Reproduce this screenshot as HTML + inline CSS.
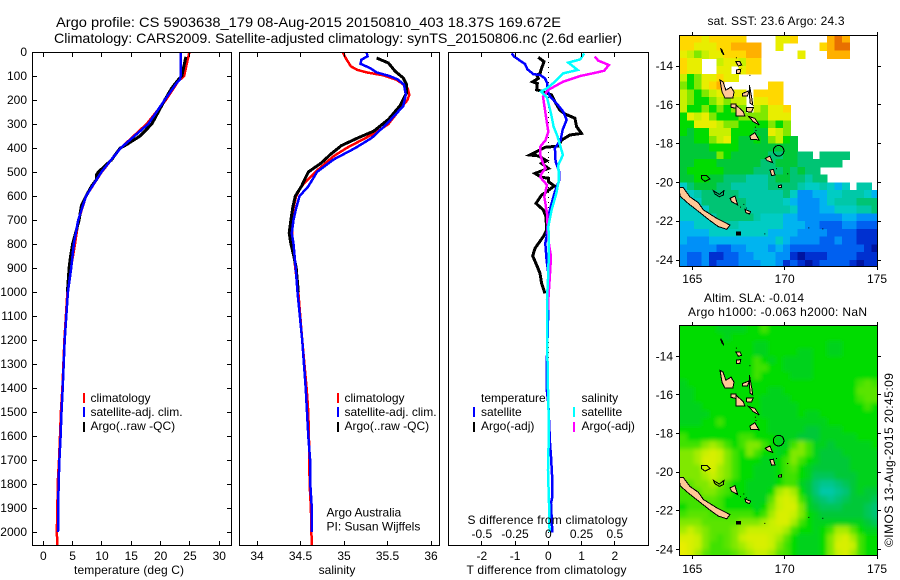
<!DOCTYPE html>
<html lang="en">
<head>
<meta charset="utf-8">
<title>Argo profile</title>
<style>
html,body{margin:0;padding:0;background:#fff}
svg{display:block}
text{font-family:"Liberation Sans",sans-serif;font-size:12px;fill:#000}
.frame{fill:none;stroke:#000;stroke-width:1;shape-rendering:crispEdges}
.line{fill:none;stroke-width:2.5;stroke-linejoin:miter;shape-rendering:crispEdges}
.title{font-size:14px}
</style>
</head>
<body>
<svg id="fig" xmlns="http://www.w3.org/2000/svg" width="900" height="580" viewBox="0 0 900 580">
<defs>
<clipPath id="clip-t"><rect x="32" y="52" width="200" height="494"/></clipPath>
<clipPath id="clip-s"><rect x="239" y="52" width="201" height="494"/></clipPath>
<clipPath id="clip-d"><rect x="448" y="52" width="201" height="494"/></clipPath>
<clipPath id="clip-m1"><rect x="679" y="35" width="199" height="232"/></clipPath>
<clipPath id="clip-m2"><rect x="679" y="325" width="199" height="231"/></clipPath>
<filter id="sla-smooth" filterUnits="userSpaceOnUse" x="650" y="295" width="250" height="285"><feGaussianBlur stdDeviation="2.2"/></filter>
</defs>

<text class="title" x="56" y="27" textLength="505" lengthAdjust="spacingAndGlyphs">Argo profile: CS 5903638_179 08-Aug-2015 20150810_403 18.37S 169.672E</text>
<text class="title" x="54" y="43" textLength="568" lengthAdjust="spacingAndGlyphs">Climatology: CARS2009. Satellite-adjusted climatology: synTS_20150806.nc (2.6d earlier)</text>

<g id="layer-heat1" clip-path="url(#clip-m1)"></g>
<g id="layer-land1" clip-path="url(#clip-m1)"></g>
<g clip-path="url(#clip-m2)"><g id="layer-heat2" filter="url(#sla-smooth)"></g></g>
<g id="layer-land2" clip-path="url(#clip-m2)"></g>

<g id="lines-t" clip-path="url(#clip-t)"></g>
<g id="lines-s" clip-path="url(#clip-s)"></g>
<g id="lines-d" clip-path="url(#clip-d)"></g>

<rect class="frame" x="32.5" y="52.5" width="199" height="493"/>
<rect class="frame" x="239.5" y="52.5" width="200" height="493"/>
<rect class="frame" x="448.5" y="52.5" width="200" height="493"/>
<rect class="frame" x="679.5" y="35.5" width="198" height="231"/>
<rect class="frame" x="679.5" y="325.5" width="198" height="230"/>

<g id="axes"></g>

<text x="129" y="574" text-anchor="middle" textLength="110" lengthAdjust="spacing">temperature (deg C)</text>
<text x="337" y="574" text-anchor="middle">salinity</text>
<text x="466.5" y="574" textLength="160" lengthAdjust="spacing">T difference from climatology</text>
<text x="467.5" y="524" textLength="160" lengthAdjust="spacing">S difference from climatology</text>

<g>
<rect x="83" y="393" width="2" height="10" fill="#f00"/>
<text x="90.5" y="402">climatology</text>
<rect x="83" y="407" width="2" height="10" fill="#00f"/>
<text x="90.5" y="416">satellite-adj. clim.</text>
<rect x="83" y="422" width="2" height="10" fill="#000"/>
<text x="90.5" y="430">Argo(..raw -QC)</text>
</g>
<g>
<rect x="337" y="393" width="2" height="10" fill="#f00"/>
<text x="344.5" y="402">climatology</text>
<rect x="337" y="407" width="2" height="10" fill="#00f"/>
<text x="344.5" y="416">satellite-adj. clim.</text>
<rect x="337" y="422" width="2" height="10" fill="#000"/>
<text x="344.5" y="430">Argo(..raw -QC)</text>
<text x="326.5" y="516.5">Argo Australia</text>
<text x="326.5" y="530.5">PI: Susan Wijffels</text>
</g>
<g>
<text x="481" y="402">temperature</text>
<text x="581.5" y="402">salinity</text>
<rect x="473" y="407" width="2" height="10" fill="#00f"/>
<text x="481" y="416">satellite</text>
<rect x="473" y="422" width="2" height="10" fill="#000"/>
<text x="481" y="430">Argo(-adj)</text>
<rect x="573" y="407" width="2" height="10" fill="#0ff"/>
<text x="581.5" y="416">satellite</text>
<rect x="573" y="422" width="2" height="10" fill="#f0f"/>
<text x="581.5" y="430">Argo(-adj)</text>
</g>

<text x="707.5" y="25" textLength="137" lengthAdjust="spacing">sat. SST: 23.6 Argo: 24.3</text>
<text x="704" y="302" textLength="100" lengthAdjust="spacing">Altim. SLA: -0.014</text>
<text x="688" y="316" textLength="179" lengthAdjust="spacing">Argo h1000: -0.063 h2000: NaN</text>
<text transform="translate(893,547) rotate(-90)" textLength="174" lengthAdjust="spacing">©IMOS 13-Aug-2015 20:45:09</text>
</svg>

<script>
// ---------- profile data ----------
const depthTicks = [0,100,200,300,400,500,600,700,800,900,1000,1100,1200,1300,1400,1500,1600,1700,1800,1900,2000];
const tempTicks = [0,5,10,15,20,25,30];
const salTicks = [34,34.5,35,35.5,36];
const salTickLabels = ['34','34.5','35','35.5','36'];
const tDiffTicks = [-2,-1,0,1,2];
const sDiffTicks = [-0.5,-0.25,0,0.25,0.5];
const sDiffTickLabels = ['-0.5','-0.25','0','0.25','0.5'];

const climTempDepth = [0,100,122,200,300,400,500,600,700,800,900,1000,1200,1400,1500,1600,1700,1800,1900,2000,2054];
const climTemp = [24.9,24,23,20.9,17.6,13.2,9.95,7.3,6,5.4,4.7,4.1,3.6,3.25,3,2.85,2.68,2.45,2.4,2.3,2.4];
const satTempDepth = [0,100,115,130,200,250,300,400,500,600,700,800,900,1000,1200,1400,1500,1600,1700,1800,1900,2000];
const satTemp = [23.47,23.4,23.3,22.7,20.7,19.3,17.9,13.2,9.9,7.3,5.95,5.2,4.75,4.2,3.65,3.3,3.1,2.95,2.75,2.6,2.55,2.5];
const argoTempDepth = [20,100,110,150,200,250,300,350,390,400,430,450,500,510,530,560,600,640,700,800,850,900,1000];
const argoTemp = [24.3,23.6,23.2,21.9,20.7,19.6,18.5,16.5,13.9,13.1,12.2,11.6,9.4,9.1,9.1,8.2,7.3,6.5,6.1,5,4.65,4.4,4.1];

const climSalDepth = [0,32,60,74,85,97,115,129,150,178,200,240,300,337,400,434,500,560,600,650,700,800,900,1000,1200,1400,1500,1650,1800,1900,2000,2054];
const climSal = [34.985,35.03,35.08,35.15,35.26,35.45,35.6,35.66,35.73,35.75,35.73,35.64,35.51,35.36,35.03,34.88,34.67,34.51,34.45,34.42,34.4,34.41,34.44,34.475,34.52,34.57,34.59,34.6,34.605,34.62,34.625,34.63];
const satSalDepth = [0,18,32,49,67,85,101,115,136,178,226,300,358,400,448,500,560,600,650,700,754,800,900,1000,1200,1400,1500,1600,1700,1800,1900,2000];
const satSal = [35.26,35.27,35.2,35.19,35.3,35.375,35.53,35.62,35.69,35.71,35.68,35.49,35.32,35.13,34.88,34.69,34.59,34.49,34.45,34.42,34.4,34.42,34.445,34.465,34.52,34.56,34.575,34.59,34.61,34.613,34.63,34.63];
const argoSalDepth = [25,46,81,108,136,171,226,281,330,358,390,428,462,500,560,600,650,700,754,800,844,900,1000];
const argoSal = [35.375,35.51,35.59,35.68,35.72,35.72,35.64,35.51,35.34,35.16,34.97,34.84,34.74,34.59,34.51,34.44,34.41,34.39,34.37,34.39,34.42,34.45,34.475];

const satDTDepth = [6,19,36,50,72,92,96,110,131,158,186,214,249,283,325,367,401,457,499,533,582,631,686,769,797,867,922,1075,1325,1401,1464,1630,1686,1783,1853,1880,2003];
const satDT = [-1.1,-1.03,-.85,-.7,-.63,-.45,-.25,-.1,-.03,-.03,.05,.25,.45,.55,.43,.37,.2,.22,.33,.33,.2,.1,0,-.05,-.09,-.05,0,0,-.05,-.05,0,.05,.08,.12,.12,.08,.12];
const argoDTDepth = [22,40,68,89,96,110,124,131,158,165,179,207,242,258,276,311,339,346,367,392,397,415,429,433,453,464,485,506,522,526,540,558,582,596,631,658,686,742,769,818,850,888,922,964,1006];
const argoDT = [-.3,-.13,-.2,-.25,-.35,-.3,-.47,-.33,-.35,-.15,.1,.2,.35,.5,.8,.85,1,.65,.4,.3,-.1,-.35,-.55,-.3,-.05,-.2,0,-.4,-.2,0,0,.18,-.05,-.2,-.37,-.15,-.07,-.05,-.15,-.4,-.47,-.35,-.25,-.2,-.1];
const satDSDepth = [6,31,44,75,89,124,151,165,189,256,311,353,429,471,533,589,658,728,783,922,1033,1075,1325,1464,1561,1742,1880,2000];
const satDS = [.27,.24,.15,.22,.11,.05,-.01,-.055,-.01,.02,.04,.07,.11,.075,.08,.06,.025,0,.005,0,-.01,-.01,-.005,0,.005,-.002,.005,.01];
const argoDSDepth = [19,36,54,78,86,100,124,158,186,242,297,332,367,394,429,464,485,506,522,554,603,672,783,853,950,1033,1075];
const argoDS = [.35,.375,.456,.42,.36,.24,.11,0,-.04,-.025,-.01,0,-.02,-.06,-.06,-.04,-.02,-.05,-.06,-.01,-.03,-.01,0,.02,.01,0,0];

// ---------- map data (colour-scale levels, 0=coldest/lowest, 15=warmest/highest; N=no data) ----------
const N = null;
const sstLevels = [
[13,13,13,12,13,13,13,13,13,N,N,N,N,12,12,13,N,N,N,N,14,15,14,N,N,N,N],
[13,13,12,12,12,13,13,14,14,14,14,N,N,12,N,N,N,N,N,13,14,15,15,N,N,N,N],
[12,11,10,11,12,12,13,13,13,14,14,N,N,N,N,N,12,N,N,N,14,14,14,N,N,N,N],
[13,12,12,N,N,11,12,12,11,13,13,N,N,N,N,N,N,N,N,N,N,N,N,N,N,N,N],
[13,12,12,N,N,12,12,N,12,13,13,N,N,N,N,N,N,N,N,N,N,N,N,N,N,N,N],
[11,9,10,12,12,13,12,12,N,N,N,N,N,N,N,N,N,N,N,N,N,N,N,N,N,N,N],
[10,9,10,12,13,14,N,N,N,N,N,N,13,13,N,N,N,N,N,N,N,N,N,N,N,N,N],
[11,10,9,10,11,12,12,12,12,N,13,13,13,13,N,N,N,N,N,N,N,N,N,N,N,N,N],
[11,10,9,9,10,11,10,11,11,N,12,12,13,13,N,N,N,N,N,N,N,N,N,N,N,N,N],
[11,9,9,10,9,10,9,10,10,N,11,10,12,12,13,N,N,N,N,N,N,N,N,N,N,N,N],
[9,12,11,12,10,9,9,9,10,10,10,10,12,12,12,N,N,N,N,N,N,N,N,N,N,N,N],
[9,9,12,12,12,11,10,10,9,9,9,9,10,9,10,N,N,N,N,N,N,N,N,N,N,N,N],
[9,8,9,9,11,11,11,9,9,9,8,8,12,11,10,N,N,N,N,N,N,N,N,N,N,N,N],
[8,8,9,9,10,11,12,9,8,8,9,8,10,11,9,8,N,N,N,N,N,N,N,N,N,N,N],
[8,8,8,8,9,9,9,9,8,8,8,8,8,8,8,8,N,N,N,N,N,N,N,N,N,N,N],
[8,8,8,8,8,10,9,8,8,8,8,8,7,7,8,8,7,7,N,7,7,7,7,N,N,N,N],
[8,8,9,9,9,8,8,8,8,8,8,7,7,8,8,8,7,7,7,7,7,7,N,N,N,N,N],
[8,9,9,9,9,9,8,8,8,8,7,7,7,7,8,7,8,7,7,N,N,N,N,N,N,N,N],
[8,8,9,9,8,8,7,7,7,6,6,6,7,8,8,7,7,6,7,7,N,N,N,N,N,N,N],
[5,7,8,8,8,7,7,6,6,6,6,6,7,7,7,7,6,5,5,6,5,4,5,N,6,6,N],
[5,5,6,7,7,7,7,7,6,6,6,6,6,6,7,5,3,3,4,4,5,5,6,6,6,5,4],
[5,5,5,7,7,7,7,7,7,6,6,6,6,6,5,4,3,3,3,4,5,6,6,6,7,7,7],
[5,5,5,5,7,7,7,7,7,6,6,6,6,6,6,5,3,3,3,4,4,5,5,5,6,6,7],
[5,5,5,5,6,7,7,7,7,7,6,5,5,5,4,4,3,3,3,3,3,3,4,4,3,3,3],
[4,4,5,5,5,5,6,6,5,5,5,5,5,5,4,4,4,3,3,2,2,2,3,3,2,2,2],
[4,4,4,4,5,5,5,5,5,5,5,5,4,4,4,4,3,3,3,3,2,2,2,2,1,1,1],
[4,3,3,3,4,4,4,4,4,4,4,4,4,5,4,3,3,3,3,2,2,3,2,2,1,1,1],
[3,3,3,3,3,2,2,3,3,4,4,4,3,4,3,2,2,2,2,2,2,2,2,2,2,1,0],
[3,2,2,3,1,1,2,2,3,3,4,4,4,3,3,1,0,1,1,1,2,2,2,2,1,1,1],
[3,2,2,3,1,2,2,2,3,3,3,4,4,3,1,2,1,0,1,2,2,2,2,1,0,1,1]
];
const slaLevels = [
[9,9,9,9,9,8.5,8.5,8.5,8.5,9,9,9.5,9,9,9,9,9,9,9,9,9,9,9,9,9,9,9],
[9,9,9,9,9,9,8.5,9,9,9,9,9,9,9,9,9,9,9,9,9,9,9,9,9,9,9,9],
[9,9,9,9,9,9,9,9,9,9,8.5,8.5,9,9,9,9,9,9,9,9,8.5,8.5,9,9,9,9,9],
[9,9,9,9,9,9,9,9,9,9,8.5,8.5,9,9,9,9,8.5,8.5,9,9,8.5,8.5,9,9,9,9,9],
[9,9,9,9,9,9,9,9,9,9,9.5,9,8.5,9,8.5,8.5,8.5,8.5,9,9,9,9,9,9,9,9,9],
[9,9,9,9,9,9,9,9,9,9,9.5,9.5,9,9,8.5,8.5,8.5,8.5,9,9,9,9,9,9,9,9,9],
[9,9,9,9,9,9,9,9,9,9,9.5,9,9,9,9,8.5,8.5,8.5,9,9,9,9,9,9,9,9,9],
[8.5,9,9,9,9,9,9,9,9,9,9,9,9,9,9,9,9,9,9,9,9,9,9,9,9.5,9.7,9.5],
[8.5,8.5,9,9,9,9,9,9,9,9,9,9,8.5,8.5,9,9,9,9,9,9,9,9,9,9,9.7,9.7,9.7],
[8.5,8.5,9,9,9,9,9,9,9,9,9,8.5,8.5,8.5,8.5,9,9,9,9,9,9,9,9,9,9.5,9.7,9.7],
[8.5,8.5,8.5,9,9,9,9,9,9,9,9,8.5,8.5,8.5,8.5,8.5,9,9,9,9,9,9,9,9,9,9.5,9],
[8.5,8.5,8.5,8.5,9,9,9,9,9,9,9,8.5,8.5,8.5,8.5,8.5,9,8.5,8.5,9,9,9,9,9,9,9,9],
[8.5,8.5,8.5,9,9,9.5,9,9,9,9,9,9,8.5,8.5,8.5,8.5,8.5,8.5,8.5,8.5,9,9,9,9,9,9,9],
[9,9,9,9,9,9,9,9,9,9,9,9,8.5,8.5,8.5,8.5,8.5,8,8,8.5,8.5,8.5,9,9,9,9,9],
[9.5,9,9,9,9,9,9,9,9.5,9.5,9,9,9,8.5,8.5,8.5,8,8,8,8.5,8.5,8.5,8.5,8.5,9,9,9],
[9.5,9.5,9.5,10,10.5,10,9.5,9,9.5,10,10,9.5,9,8.5,8.5,9.5,10,9.5,8.5,8.5,8,8.5,8.5,8.5,8.5,8.5,9],
[10,10,10.5,11,11.5,11,10,9.5,9,10,9.5,9,9,8.5,9,10,10,9.5,8.5,8,8,8,8.5,8.5,8.5,8.5,8.5],
[10,10,10.5,11.5,11.5,11,10,9.5,9,9,9,8.5,8.5,9,9.5,10,9.5,9,8.5,8,8,8,8,8.5,8.5,8.5,8.5],
[10,10,10,11,11.5,10.5,10,9.5,9,9,8.5,8.5,8.5,9,9.5,9.7,9,8.5,8,8,8,8,8,8.5,8.5,8.5,8.5],
[10,10,10,10.5,11,10.5,10,9.5,9,9,8.5,8.5,8.5,9,9.5,9.5,9,8.5,7.5,7.5,7.5,8,8,8,8.5,8.5,8.5],
[9.7,9.7,10,10,10.5,10,9.5,9,9,8.5,8.5,8.5,8.5,9,9.5,9.5,8.5,8,7,6.5,6.5,7,7.5,8,8.5,8.5,8.5],
[9.5,9.5,9.7,10,10,9.7,9.5,9,9,8.5,8.5,8.5,9,10.5,11,10.5,9,8,7,6,6,6.5,7,8,8.5,8,8],
[9.5,9.5,9.5,9.7,9.7,9.5,9,9,9,8.5,8.5,8.5,9.7,11,11.5,11,9.5,8.5,7.5,7,6.5,7,7.5,8,8,8,7.5],
[9,9.5,9.5,9.5,9.5,9.5,9,9,9,9,8.5,9,10,11,11.5,11.5,10,8.5,8,7.5,7.5,7.5,8,8,8,7.5,7],
[9.5,9.7,9.7,9.7,9.5,9.5,9.5,9.5,9.5,9.5,9,9.5,10.5,11.5,11.5,11,10,9,8.5,8,8,8,8,8,8,7.5,7],
[10,10,10,9.7,9.7,9.7,9.7,9.7,10,10,10,10.5,11,11.5,11.5,10.5,9.5,9,8.5,8.5,8.5,8.5,8.5,8.5,8.5,8,7.5],
[10.5,11,10.5,10,9.7,9.7,9.7,10,10.5,11,11,11,11,11,10.5,9.5,9,9,8.5,9,9.5,10.5,10.5,9.7,9,8.5,8.5],
[11.5,11.5,11,10,9.7,9.5,9.7,10,11,11.5,11.5,11.5,11,10.5,9.7,9,8.5,8.5,8.5,9,10,11,11.5,10.5,9.5,9,9],
[12,11.5,11,10,9.5,9.5,9.7,10,10.5,11,11.5,11.5,11,10,9.5,9,8.5,8.5,8.5,9,10,11.5,11.5,11,9.5,9,9],
[12,11.5,10.5,9.7,9.5,9.5,9.5,9.7,10,10.5,11,11,10.5,9.7,9.5,9,8.5,8.5,8.5,9,10,11,11.5,10.5,9.5,9,9]
];
const colourScale = ['#0014a0','#0030d0','#0060f0','#0090f8','#00b4f0','#00ccc4','#00c8a8','#00c474','#00c838','#00dc00','#80e800','#c8f000','#e8ee00','#ffd800','#ffb000','#e87000'];
const lonTicks = [165,170,175];
const latTicks = [-14,-16,-18,-20,-22,-24];
const gridLonStart = 164.3, gridLatStart = -12.4, gridStep = 0.4;
const floatLon = 169.672, floatLat = -18.37;

const islandNames = ['new-caledonia','espiritu-santo','malekula','malo','ambrym','pentecost','ambae','epi','efate','erromango','tanna','aneityum','banks-a','banks-b','torres','mare','maatsu','isle-of-pines'];
const islandLons = [
[164.3,164.51,164.87,165.32,165.6,166.32,167.04,166.86,166.41,165.96,165.23,164.78,164.33],
[166.5,166.66,166.82,167.1,167.26,167.2,166.77,166.61],
[167.37,167.76,167.85,167.37],
[167.1,167.36,167.36,167.1],
[167.94,168.3,168.2,167.94],
[168.09,168.22,168.27,168.13,168.09],
[167.73,168.09,167.98,167.73],
[168.05,168.39,168.63,168.3],
[168.12,168.39,168.61,168.16],
[168.95,169.2,169.35,169.06],
[169.2,169.39,169.48,169.3],
[169.66,169.84,169.84,169.66],
[167.36,167.58,167.67,167.49],
[167.4,167.62,167.58,167.4],
[166.53,166.62,166.71,166.6],
[167.04,167.31,167.45,167.13],
[167.85,168.16,168.09,167.9],
[167.4,167.6,167.6,167.4]
];
const islandLats = [
[-20.27,-20.27,-20.74,-21.04,-21.42,-21.85,-22.2,-22.42,-22.28,-21.97,-21.42,-21.08,-20.7],
[-14.72,-14.82,-15.24,-15.08,-15.34,-15.65,-15.65,-15.34],
[-16.01,-16.36,-16.58,-16.58],
[-15.96,-15.96,-16.18,-16.13],
[-16.15,-16.15,-16.38,-16.35],
[-14.98,-15.66,-16,-15.91,-15.41],
[-15.41,-15.27,-15.55,-15.55],
[-16.6,-16.7,-17.04,-16.87],
[-17.61,-17.44,-17.81,-17.78],
[-18.76,-18.64,-18.98,-18.88],
[-19.36,-19.33,-19.62,-19.65],
[-20.17,-20.13,-20.25,-20.25],
[-13.78,-13.78,-13.95,-14],
[-14.2,-14.17,-14.38,-14.38],
[-13.09,-13.2,-13.43,-13.3],
[-20.82,-20.7,-21.16,-20.99],
[-21.39,-21.51,-21.63,-21.56],
[-22.55,-22.55,-22.7,-22.7]
];
const ringNames = ['ouvea','lifou'];
const ringLons = [[165.5,165.78,165.96,165.69,165.51],[166.14,166.46,166.71,166.68,166.46,166.23]];
const ringLats = [[-19.65,-19.65,-19.82,-19.95,-19.82],[-20.43,-20.62,-20.43,-20.65,-20.74,-20.6]];
const speckLons = [167.36,168.09,168.39,168.42,169.53,170.14,171.28,172.04,168.9,167.58,167.76,167.9];
const speckLats = [-13.55,-14.46,-17.13,-17.3,-19.27,-19.53,-22.32,-22.37,-22.63,-21.25,-21.11,-21.3];

// ---------- axis functions ----------
const depthY = d => 52 + d * 0.24;
const xTemp = t => 43.3 + t * 5.867;
const xSal = s => 257 + (s - 34) * 87;
const xDT = v => 548.3 + v * 33.25;
const xDS = v => 548.3 + v * 133;
const lonX = lon => 692.3 + (lon - 165) * 18.47;
const latY1 = lat => 66 + (-14 - lat) * 19.4;
const latY2 = lat => 356.3 + (-14 - lat) * 19.3;

const NS = 'http://www.w3.org/2000/svg';
function make(tag, parent, attrs) {
  const el = document.createElementNS(NS, tag);
  for (const k in attrs) el.setAttribute(k, attrs[k]);
  parent.appendChild(el);
  return el;
}

// ---------- profile lines ----------
function drawLine(parentId, name, depths, values, xFn, colour, width) {
  const pts = depths.map((d, i) => xFn(values[i]).toFixed(1) + ',' + depthY(d).toFixed(1)).join(' ');
  const el = make('polyline', document.getElementById(parentId), {points: pts, stroke: colour, class: 'line', style: 'stroke-width:' + width});
  
  
}
drawLine('lines-t', 'temperature-climatology-line', climTempDepth, climTemp, xTemp, '#f00', 2.5);
drawLine('lines-t', 'temperature-argo-line', argoTempDepth, argoTemp, xTemp, '#000', 3);
drawLine('lines-t', 'temperature-satellite-line', satTempDepth, satTemp, xTemp, '#00f', 2.5);
drawLine('lines-s', 'salinity-climatology-line', climSalDepth, climSal, xSal, '#f00', 2.5);
drawLine('lines-s', 'salinity-argo-line', argoSalDepth, argoSal, xSal, '#000', 3);
drawLine('lines-s', 'salinity-satellite-line', satSalDepth, satSal, xSal, '#00f', 2.5);

const zeroLine = make('line', document.getElementById('lines-d'), {x1: xDT(0), x2: xDT(0), y1: depthY(0), y2: depthY(2054), stroke: '#000', 'stroke-width': 1, 'stroke-dasharray': '1 4', 'shape-rendering': 'crispEdges'});


drawLine('lines-d', 'diff-temperature-argo-line', argoDTDepth, argoDT, xDT, '#000', 3);
drawLine('lines-d', 'diff-temperature-satellite-line', satDTDepth, satDT, xDT, '#00f', 2.5);
drawLine('lines-d', 'diff-salinity-argo-line', argoDSDepth, argoDS, xDS, '#f0f', 2.5);
drawLine('lines-d', 'diff-salinity-satellite-line', satDSDepth, satDS, xDS, '#0ff', 2.5);

// ---------- heatmaps ----------
function levelColour(v) {
  const lo = Math.floor(v), hi = Math.min(lo + 1, colourScale.length - 1), f = v - lo;
  const a = parseInt(colourScale[lo].slice(1), 16), b = parseInt(colourScale[hi].slice(1), 16);
  const mix = s => Math.round(((a >> s) & 255) * (1 - f) + ((b >> s) & 255) * f);
  return 'rgb(' + mix(16) + ',' + mix(8) + ',' + mix(0) + ')';
}
function drawHeat(parentId, grid, latY, name, bleed) {
  const parent = document.getElementById(parentId);
  grid.forEach((row, r) => {
    row.forEach((v, c) => {
      if (v === null) return;
      let x0 = lonX(gridLonStart + c * gridStep), x1 = lonX(gridLonStart + (c + 1) * gridStep);
      let y0 = latY(gridLatStart - r * gridStep), y1 = latY(gridLatStart - (r + 1) * gridStep);
      if (c === 0) x0 -= bleed;
      if (c === row.length - 1) x1 += bleed;
      if (r === 0) y0 -= bleed;
      if (r === grid.length - 1) y1 += bleed;
      const cell = make('rect', parent, {x: x0.toFixed(1), y: y0.toFixed(1), width: (x1 - x0 + 0.6).toFixed(1), height: (y1 - y0 + 0.6).toFixed(1), fill: levelColour(v), 'shape-rendering': 'crispEdges'});
      
      
    });
  });
}
drawHeat('layer-heat1', sstLevels, latY1, 'sst-cell', 0);
drawHeat('layer-heat2', slaLevels, latY2, 'sla-cell', 12);

// ---------- land ----------
function drawLand(parentId, latY) {
  const parent = document.getElementById(parentId);
  islandNames.forEach((nm, i) => {
    const pts = islandLons[i].map((lon, j) => lonX(lon).toFixed(1) + ',' + latY(islandLats[i][j]).toFixed(1)).join(' ');
    const fill = nm === 'isle-of-pines' ? '#000' : '#ffc896';
    const poly = make('polygon', parent, {points: pts, fill: fill, stroke: '#000', 'stroke-width': 1, 'shape-rendering': 'crispEdges'});
    
    
  });
  ringNames.forEach((nm, i) => {
    const pts = ringLons[i].map((lon, j) => lonX(lon).toFixed(1) + ',' + latY(ringLats[i][j]).toFixed(1)).join(' ');
    const poly = make('polygon', parent, {points: pts, fill: 'none', stroke: '#000', 'stroke-width': 1, 'shape-rendering': 'crispEdges'});
    
    
  });
  speckLons.forEach((lon, i) => {
    const sp = make('rect', parent, {x: lonX(lon).toFixed(1), y: latY(speckLats[i]).toFixed(1), width: 1, height: 1, fill: '#000'});
    
    
  });
  const circle = make('circle', parent, {cx: lonX(floatLon), cy: latY(floatLat), r: 5.3, fill: 'none', stroke: '#000', 'stroke-width': 1, 'shape-rendering': 'crispEdges'});
  
  
}
drawLand('layer-land1', latY1);
drawLand('layer-land2', latY2);

// ---------- axes ----------
const axes = document.getElementById('axes');
function tick(x1, y1, x2, y2) {
  const t = make('line', axes, {x1: x1, y1: y1, x2: x2, y2: y2, stroke: '#000', 'stroke-width': 1, 'shape-rendering': 'crispEdges'});
  
  
}
function label(x, y, str, anchor) {
  const t = make('text', axes, {x: x, y: y, 'text-anchor': anchor});
  t.textContent = str;
  
  
}
const px = v => Math.floor(v) + 0.5;
depthTicks.forEach(d => {
  const y = px(depthY(d));
  tick(32.5, y, 37, y);
  tick(227, y, 231.5, y);
  label(27, depthY(d) + 4, String(d), 'end');
});
tempTicks.forEach(t => {
  const x = px(xTemp(t));
  tick(x, 52.5, x, 57);
  tick(x, 541, x, 545.5);
  label(xTemp(t), 560, String(t), 'middle');
});
salTicks.forEach((s, i) => {
  const x = px(xSal(s));
  tick(x, 52.5, x, 57);
  tick(x, 541, x, 545.5);
  label(xSal(s), 560, salTickLabels[i], 'middle');
});
tDiffTicks.forEach(t => {
  const x = px(xDT(t));
  tick(x, 52.5, x, 57);
  tick(x, 541, x, 545.5);
  label(xDT(t), 560, String(t), 'middle');
});
sDiffTicks.forEach((s, i) => {
  label(xDS(s), 538, sDiffTickLabels[i], 'middle');
});
function mapAxes(latY, top, bottom, baseline) {
  lonTicks.forEach(lon => {
    const x = px(lonX(lon));
    tick(x, top - 3.5, x, top);
    tick(x, bottom, x, bottom + 3.5);
    label(lonX(lon), baseline, String(lon), 'middle');
  });
  latTicks.forEach(lat => {
    const y = px(latY(lat));
    tick(676, y, 679.5, y);
    tick(877.5, y, 881, y);
    label(673, latY(lat) + 4, String(lat), 'end');
  });
}
mapAxes(latY1, 35.5, 266.5, 283);
mapAxes(latY2, 325.5, 555.5, 573);
</script>
</body>
</html>
